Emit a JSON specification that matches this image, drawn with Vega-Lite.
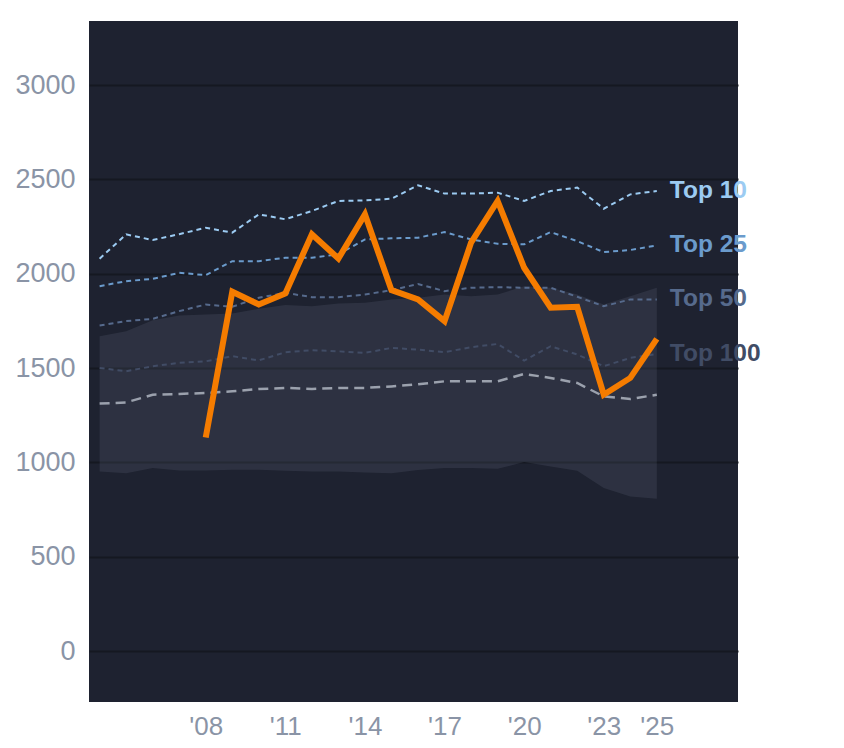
{
  "$schema": "https://vega.github.io/schema/vega-lite/v6.json",
  "width": 649,
  "height": 681,
  "autosize": "none",
  "padding": {"left": 89, "top": 21, "right": 106, "bottom": 46},
  "background": "#ffffff",
  "config": {
    "view": {"fill": "#1e2230", "stroke": null},
    "font": "Liberation Sans",
    "axis": {
      "domain": false,
      "ticks": false,
      "labelColor": "#8a94a6",
      "labelFont": "Liberation Sans",
      "labelFontSize": 27,
      "title": null,
      "gridColor": "#151821",
      "gridWidth": 2
    }
  },
  "datasets": {
    "band": [
      {"year": 2004, "lo": 952, "hi": 1669}, {"year": 2005, "lo": 943, "hi": 1696},
      {"year": 2006, "lo": 970, "hi": 1754}, {"year": 2007, "lo": 957, "hi": 1779},
      {"year": 2008, "lo": 957, "hi": 1784}, {"year": 2009, "lo": 961, "hi": 1789},
      {"year": 2010, "lo": 961, "hi": 1814}, {"year": 2011, "lo": 956, "hi": 1834},
      {"year": 2012, "lo": 952, "hi": 1828}, {"year": 2013, "lo": 952, "hi": 1842},
      {"year": 2014, "lo": 947, "hi": 1846}, {"year": 2015, "lo": 943, "hi": 1864},
      {"year": 2016, "lo": 960, "hi": 1873}, {"year": 2017, "lo": 970, "hi": 1890},
      {"year": 2018, "lo": 970, "hi": 1881}, {"year": 2019, "lo": 966, "hi": 1890},
      {"year": 2020, "lo": 1002, "hi": 1934}, {"year": 2021, "lo": 979, "hi": 1926},
      {"year": 2022, "lo": 956, "hi": 1890}, {"year": 2023, "lo": 864, "hi": 1837},
      {"year": 2024, "lo": 819, "hi": 1881}, {"year": 2025, "lo": 807, "hi": 1926}
    ],
    "median": [
      {"year": 2004, "value": 1312}, {"year": 2005, "value": 1318}, {"year": 2006, "value": 1359},
      {"year": 2007, "value": 1363}, {"year": 2008, "value": 1368}, {"year": 2009, "value": 1377},
      {"year": 2010, "value": 1389}, {"year": 2011, "value": 1395}, {"year": 2012, "value": 1389},
      {"year": 2013, "value": 1395}, {"year": 2014, "value": 1395}, {"year": 2015, "value": 1403},
      {"year": 2016, "value": 1414}, {"year": 2017, "value": 1430}, {"year": 2018, "value": 1430},
      {"year": 2019, "value": 1430}, {"year": 2020, "value": 1469}, {"year": 2021, "value": 1448},
      {"year": 2022, "value": 1421}, {"year": 2023, "value": 1350}, {"year": 2024, "value": 1336},
      {"year": 2025, "value": 1359}
    ],
    "tops": [
      {"series": "Top 10", "year": 2004, "value": 2080}, {"series": "Top 10", "year": 2005, "value": 2209},
      {"series": "Top 10", "year": 2006, "value": 2179}, {"series": "Top 10", "year": 2007, "value": 2210},
      {"series": "Top 10", "year": 2008, "value": 2244}, {"series": "Top 10", "year": 2009, "value": 2218},
      {"series": "Top 10", "year": 2010, "value": 2315}, {"series": "Top 10", "year": 2011, "value": 2289},
      {"series": "Top 10", "year": 2012, "value": 2333}, {"series": "Top 10", "year": 2013, "value": 2386},
      {"series": "Top 10", "year": 2014, "value": 2389}, {"series": "Top 10", "year": 2015, "value": 2398},
      {"series": "Top 10", "year": 2016, "value": 2469}, {"series": "Top 10", "year": 2017, "value": 2425},
      {"series": "Top 10", "year": 2018, "value": 2425}, {"series": "Top 10", "year": 2019, "value": 2430},
      {"series": "Top 10", "year": 2020, "value": 2386}, {"series": "Top 10", "year": 2021, "value": 2439},
      {"series": "Top 10", "year": 2022, "value": 2457}, {"series": "Top 10", "year": 2023, "value": 2345},
      {"series": "Top 10", "year": 2024, "value": 2421}, {"series": "Top 10", "year": 2025, "value": 2439},
      {"series": "Top 25", "year": 2004, "value": 1934}, {"series": "Top 25", "year": 2005, "value": 1961},
      {"series": "Top 25", "year": 2006, "value": 1973}, {"series": "Top 25", "year": 2007, "value": 2005},
      {"series": "Top 25", "year": 2008, "value": 1993}, {"series": "Top 25", "year": 2009, "value": 2067},
      {"series": "Top 25", "year": 2010, "value": 2067}, {"series": "Top 25", "year": 2011, "value": 2085},
      {"series": "Top 25", "year": 2012, "value": 2085}, {"series": "Top 25", "year": 2013, "value": 2103},
      {"series": "Top 25", "year": 2014, "value": 2182}, {"series": "Top 25", "year": 2015, "value": 2188},
      {"series": "Top 25", "year": 2016, "value": 2191}, {"series": "Top 25", "year": 2017, "value": 2221},
      {"series": "Top 25", "year": 2018, "value": 2182}, {"series": "Top 25", "year": 2019, "value": 2159},
      {"series": "Top 25", "year": 2020, "value": 2156}, {"series": "Top 25", "year": 2021, "value": 2221},
      {"series": "Top 25", "year": 2022, "value": 2173}, {"series": "Top 25", "year": 2023, "value": 2115},
      {"series": "Top 25", "year": 2024, "value": 2126}, {"series": "Top 25", "year": 2025, "value": 2150},
      {"series": "Top 50", "year": 2004, "value": 1726}, {"series": "Top 50", "year": 2005, "value": 1749},
      {"series": "Top 50", "year": 2006, "value": 1761}, {"series": "Top 50", "year": 2007, "value": 1802},
      {"series": "Top 50", "year": 2008, "value": 1837}, {"series": "Top 50", "year": 2009, "value": 1825},
      {"series": "Top 50", "year": 2010, "value": 1873}, {"series": "Top 50", "year": 2011, "value": 1899},
      {"series": "Top 50", "year": 2012, "value": 1876}, {"series": "Top 50", "year": 2013, "value": 1876},
      {"series": "Top 50", "year": 2014, "value": 1890}, {"series": "Top 50", "year": 2015, "value": 1913},
      {"series": "Top 50", "year": 2016, "value": 1946}, {"series": "Top 50", "year": 2017, "value": 1908},
      {"series": "Top 50", "year": 2018, "value": 1926}, {"series": "Top 50", "year": 2019, "value": 1929},
      {"series": "Top 50", "year": 2020, "value": 1926}, {"series": "Top 50", "year": 2021, "value": 1926},
      {"series": "Top 50", "year": 2022, "value": 1878}, {"series": "Top 50", "year": 2023, "value": 1828},
      {"series": "Top 50", "year": 2024, "value": 1864}, {"series": "Top 50", "year": 2025, "value": 1864},
      {"series": "Top 100", "year": 2004, "value": 1501}, {"series": "Top 100", "year": 2005, "value": 1483},
      {"series": "Top 100", "year": 2006, "value": 1510}, {"series": "Top 100", "year": 2007, "value": 1528},
      {"series": "Top 100", "year": 2008, "value": 1536}, {"series": "Top 100", "year": 2009, "value": 1563},
      {"series": "Top 100", "year": 2010, "value": 1541}, {"series": "Top 100", "year": 2011, "value": 1584},
      {"series": "Top 100", "year": 2012, "value": 1595}, {"series": "Top 100", "year": 2013, "value": 1589},
      {"series": "Top 100", "year": 2014, "value": 1581}, {"series": "Top 100", "year": 2015, "value": 1607},
      {"series": "Top 100", "year": 2016, "value": 1598}, {"series": "Top 100", "year": 2017, "value": 1584},
      {"series": "Top 100", "year": 2018, "value": 1611}, {"series": "Top 100", "year": 2019, "value": 1628},
      {"series": "Top 100", "year": 2020, "value": 1540}, {"series": "Top 100", "year": 2021, "value": 1616},
      {"series": "Top 100", "year": 2022, "value": 1572}, {"series": "Top 100", "year": 2023, "value": 1510},
      {"series": "Top 100", "year": 2024, "value": 1554}, {"series": "Top 100", "year": 2025, "value": 1575}
    ],
    "main": [
      {"year": 2008, "value": 1132}, {"year": 2009, "value": 1905}, {"year": 2010, "value": 1837},
      {"year": 2011, "value": 1896}, {"year": 2012, "value": 2209}, {"year": 2013, "value": 2081},
      {"year": 2014, "value": 2315}, {"year": 2015, "value": 1913}, {"year": 2016, "value": 1864},
      {"year": 2017, "value": 1749}, {"year": 2018, "value": 2165}, {"year": 2019, "value": 2386},
      {"year": 2020, "value": 2032}, {"year": 2021, "value": 1820}, {"year": 2022, "value": 1825},
      {"year": 2023, "value": 1359}, {"year": 2024, "value": 1448}, {"year": 2025, "value": 1655}
    ]
  },
  "encoding": {
    "x": {
      "field": "year",
      "type": "quantitative",
      "scale": {"domain": [2003.6, 2028.06], "nice": false, "zero": false},
      "axis": {
        "values": [2008, 2011, 2014, 2017, 2020, 2023, 2025],
        "grid": false,
        "labelExpr": "\"'\" + substring(toString(datum.value), 2)",
        "labelPadding": 11,
        "labelFontSize": 26
      }
    }
  },
  "layer": [
    {
      "data": {"name": "band"},
      "mark": {"type": "area", "color": "#a0a8bc", "opacity": 0.12},
      "encoding": {
        "y": {
          "field": "hi",
          "type": "quantitative",
          "scale": {"domain": [-270, 3340], "nice": false, "zero": false},
          "axis": {"values": [0, 500, 1000, 1500, 2000, 2500, 3000], "format": "d", "labelPadding": 14, "grid": true}
        },
        "y2": {"field": "lo"}
      }
    },
    {
      "data": {"name": "median"},
      "mark": {"type": "line", "color": "#9ba1ad", "strokeWidth": 2.5, "strokeDash": [10, 6]},
      "encoding": {"y": {"field": "value", "type": "quantitative"}}
    },
    {
      "data": {"name": "tops"},
      "mark": {"type": "line", "strokeWidth": 2, "strokeDash": [5, 4]},
      "encoding": {
        "y": {"field": "value", "type": "quantitative"},
        "color": {
          "field": "series",
          "type": "nominal",
          "scale": {"domain": ["Top 10", "Top 25", "Top 50", "Top 100"], "range": ["#9ccbf2", "#6b9bcc", "#566a8c", "#414c65"]},
          "legend": null
        }
      }
    },
    {
      "data": {"name": "main"},
      "mark": {"type": "line", "color": "#f57c00", "strokeWidth": 6, "strokeJoin": "miter"},
      "encoding": {"y": {"field": "value", "type": "quantitative"}}
    },
    {
      "data": {"name": "tops"},
      "transform": [{"filter": "datum.year == 2025"}],
      "mark": {"type": "text", "align": "left", "baseline": "middle", "dx": 13, "fontSize": 24.5, "fontWeight": "bold", "font": "Liberation Sans"},
      "encoding": {
        "y": {"field": "value", "type": "quantitative"},
        "text": {"field": "series"},
        "color": {"field": "series", "type": "nominal", "legend": null}
      }
    }
  ]
}
